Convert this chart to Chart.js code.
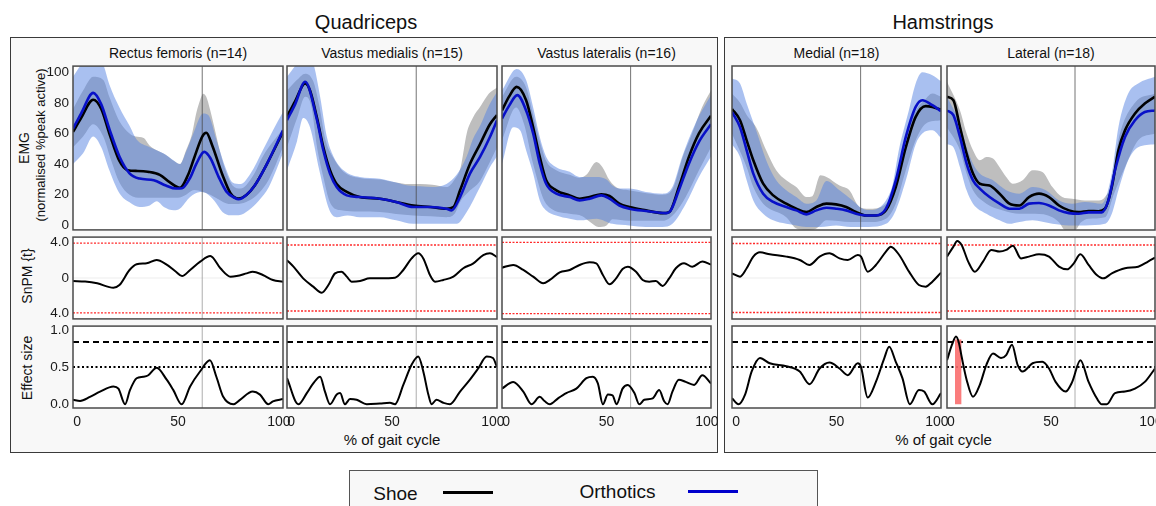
<!DOCTYPE html>
<html><head><meta charset="utf-8">
<script src="https://cdn.jsdelivr.net/npm/chart.js@4.4.1/dist/chart.umd.min.js"></script>
<style>
html,body{margin:0;padding:0;background:#fff;width:1156px;height:506px;overflow:hidden;font-family:"Liberation Sans",Arial,Helvetica,sans-serif;color:#111;}
.box{position:absolute;border:1.5px solid #3a3a3a;background:#f8f8f8;box-sizing:border-box;}
.t{position:absolute;white-space:nowrap;transform:translate(-50%,-50%);line-height:1;}
.r{transform:translate(-50%,-50%) rotate(-90deg);}
canvas{position:absolute;}
.lg{position:absolute;}
</style></head><body>
<div class="box" style="left:10px;top:37px;width:708px;height:416px"></div>
<div class="box" style="left:724px;top:37px;width:450px;height:416px"></div>
<div class="t" style="left:366px;top:21.5px;font-size:20px">Quadriceps</div>
<div class="t" style="left:943px;top:21.5px;font-size:20px">Hamstrings</div>
<div id="subs"></div>
<div class="t r" style="left:24px;top:148px;font-size:14px">EMG</div>
<div class="t r" style="left:40px;top:145px;font-size:13px">(normalised %peak active)</div>
<div class="t r" style="left:27px;top:276px;font-size:14px">SnPM {t}</div>
<div class="t r" style="left:27px;top:368px;font-size:14px">Effect size</div>
<div class="t" style="left:392px;top:439px;font-size:15px">% of gait cycle</div>
<div class="t" style="left:943.5px;top:439px;font-size:15px">% of gait cycle</div>
<div class="box" style="left:349px;top:470px;width:469px;height:60px;border-color:#555"></div>
<div class="t" style="left:395.5px;top:493px;font-size:19px">Shoe</div>
<div class="lg" style="left:443px;top:491px;width:50px;height:3px;background:#000"></div>
<div class="t" style="left:617.5px;top:490.5px;font-size:19px">Orthotics</div>
<div class="lg" style="left:688px;top:489.5px;width:50px;height:3px;background:#0000cc"></div>
<script>
// ---------------- data ----------------
const muscles = ['Rectus femoris (n=14)','Vastus medialis (n=15)','Vastus lateralis (n=16)','Medial (n=18)','Lateral (n=18)'];
const gaitTicks = [0, 50, 100];
const emgTicks = [0, 20, 40, 60, 80, 100];
const snpmTicks = [-4, 0, 4];
const esTicks = [0, 0.5, 1.0];
const toeOff = 62;
const snpmThreshold = [3.93, 3.7, 4.0, 3.87, 3.7];
const esLarge = 0.835;
const esMedium = 0.5;

// Rectus femoris
const rfShoe = [[-2,61],[2,70],[8,82],[12,76],[16,60],[21,42],[25,36],[30,35.5],[35,35],[41,33],[46,28],[51,24.5],[55,33],[58,44],[62,58],[64,60.5],[67,52],[72,33],[76,21],[80,17.5],[84,20],[88,26],[94,40],[102,61]];
const rfOrth = [[-2,63],[2,73],[8,86.5],[12,79],[16,63],[21,45],[26,34],[31,30.5],[38,29.4],[44,26],[49,24],[52,24.2],[56,31],[59,40],[63,48],[66,44],[70,32],[74,22],[78,18],[80,17],[84,20],[88,26],[94,40],[102,62]];
const rfOrthHi = [[-2,97],[3,107],[8,115],[13,105],[16,92],[21,77],[26,65],[29.5,56],[36,51],[42.7,47],[47.7,42.5],[51,40],[54,48],[57.6,60],[62.5,73],[65,72],[69,56],[74,36],[77,28],[81,27],[86,34],[92,49],[97,62],[102,74]];
const rfOrthLo = [[-2,40],[3,47],[8,58],[12,51],[16,36],[21,21],[26,15],[31,12],[36,13],[39.5,15.7],[43,12],[48,9.8],[51,11],[56,18.5],[61,21.8],[64,21],[68,16],[72,8.7],[76,6.5],[80,6.5],[85,9.8],[90,16],[95,25],[102,47]];
const rfShoeHi = [[-2,76],[3,88],[8,97],[13,95],[16,84],[21,68],[26,60],[29,58],[33,57],[36,52],[41,48],[44,46],[48,42],[51,40],[54,49],[57,60],[59,73],[61,82],[62.5,86],[64,84],[66,75],[68.7,60],[71,47],[74,34],[77,26],[81,24],[87,32],[92,45],[102,63]];
const rfShoeLo = [[-2,51],[3,58],[8,66],[13,58],[17,42],[21,28],[26,20],[32,18],[38,18],[44,18],[50,18],[54,20],[58,23],[62,22],[66,20],[70,17],[75,14],[80,14],[85,16],[90,21],[95,30],[102,51]];
const rfT = [[-2,-0.34],[4,-0.4],[10,-0.6],[18,-1.09],[21,-0.79],[26,0.9],[29.5,1.54],[34.5,1.65],[39.4,2.02],[44,1.57],[49,0.71],[52,0.22],[56,0.9],[61,1.84],[66,2.47],[71,1.09],[76,0.15],[79,0.22],[84,0.52],[87,0.71],[92,0.34],[97,-0.22],[102,-0.41]];
const rfES = [[-2,0.06],[1.5,0.045],[6.4,0.1],[11.4,0.17],[18,0.24],[20.5,0.21],[23.8,0],[26.2,0.19],[29.5,0.35],[32.8,0.37],[35.3,0.39],[39.4,0.49],[44.4,0.33],[47.7,0.19],[51.8,0],[56,0.24],[60.9,0.44],[65.8,0.59],[69,0.37],[72.4,0.1],[77.4,0],[80.7,0.06],[87,0.17],[90.6,0.13],[94.7,0],[97,0.04],[102,0.07]];

// Vastus medialis
const vmShoe = [[-2,71],[2,81],[7,92.6],[9.4,88],[12.7,71],[16,51],[19.3,36],[22.6,27],[27.6,21.8],[34,18.5],[44,17.4],[52,15.3],[60.6,13],[69,12],[77,10.9],[80.4,12],[83.7,22.9],[88.6,40],[93.6,53],[98.5,66],[102,72]];
const vmOrth = [[-2,68.6],[2,79],[7,93.7],[12.7,69.7],[16,49],[19.3,33.8],[22.6,25],[27.6,19.6],[34,18.5],[44,17.4],[52,15.3],[60.6,12],[69,12],[77,10.9],[79.5,9.8],[83.7,18.5],[88.6,33.8],[93.6,44.7],[98.5,57.7],[102,68.6]];
const vmOrthHi = [[-2,97],[3,106],[7,115],[11,106],[14.4,84],[17.7,58],[21,45],[26,36],[34,31.6],[44,30.5],[52,28],[58,26],[64,25.5],[70,25],[77,27],[82,33],[87,45],[90,56],[94,66],[98,78],[102,87]];
const vmOrthLo = [[-2,36],[3,55],[6,70],[9.4,64],[14,36],[19,10],[22.6,5.4],[28,6.5],[34,5.4],[44,5.4],[52,3.3],[60.6,1],[69,1],[77,1],[82,1],[87,8.7],[93.6,25],[98.5,38],[102,45]];
const vmShoeHi = [[-2,88],[3,95],[7,99],[11,94],[14,78],[17,56],[21,44],[26,35],[34,31],[44,30],[52,28],[58,27],[64,27],[70,26.5],[77,25],[81,30],[84,38],[87,60],[90,70],[94,78],[98,86],[102,90]];
const vmShoeLo = [[-2,51],[3,70],[7,84],[10,78],[13,50],[16,31.6],[19,16],[24,10],[34,9],[44,8.7],[52,7.5],[60.6,6.5],[69,6],[77,5.4],[81,7.6],[84,16],[88,22],[93.6,29],[98,40],[102,51]];
const vmT = [[-2,2.0],[1.2,1.27],[6,-0.04],[11,-0.97],[15.2,-1.65],[18.5,-0.79],[21.8,0.52],[25,0.71],[27.6,0.15],[30,-0.41],[34.2,-0.34],[39,-0.04],[44,-0.04],[51.5,0.04],[55.6,0.9],[59.7,2.2],[63,2.77],[65.5,2.2],[68.8,0.34],[71.3,-0.41],[75.4,-0.22],[80.4,0.15],[85.3,1.09],[90.3,1.65],[95.2,2.58],[98.5,2.77],[102,2.35]];
const vmES = [[-2,0.35],[3.6,0],[7.8,0.15],[11,0.28],[14.4,0.37],[16.8,0.17],[19.3,0],[22.6,0.13],[24.3,0.15],[26.7,0],[29.2,0.07],[32.5,0.06],[37.5,0],[44,0.01],[49,0.02],[51.5,0],[55.6,0.26],[59.7,0.53],[63,0.64],[65.5,0.44],[68,0.13],[69.6,0],[72,0.06],[75.4,0.02],[78.7,0],[83.7,0.17],[88.6,0.33],[92.7,0.48],[96.9,0.64],[100,0.62],[102,0.5]];

// Vastus lateralis
const vlShoe = [[-2,75],[1.5,84],[5.3,90.4],[10,81.7],[13.5,64],[16.8,44.7],[20,29.4],[25,22.9],[31.7,19.6],[36.6,17.4],[41.6,18.5],[47.4,20.3],[51.5,19.2],[56.4,14.2],[61.4,12],[69.6,9.8],[77.9,8],[81.2,8.7],[86,25],[91,44.7],[96,60],[102,71.5]];
const vlOrth = [[-2,69.7],[1.5,78],[5.6,85],[10,75],[13.5,60],[16.8,40.3],[20,27],[25,20.7],[31.7,18.5],[36.6,16.3],[41.6,17.4],[47.4,19.6],[51.5,17.4],[56.4,13],[61.4,10.9],[69.6,9.4],[79.5,8],[82,9.8],[86,22.9],[91,40.3],[96,54.5],[102,66]];
const vlOrthHi = [[-2,88],[5.3,102],[10,94.8],[13.5,77],[16.8,57.7],[20,44.7],[25,38],[31.7,35],[36.6,31.6],[40,31.6],[45,31.6],[50,30],[53,26],[56.4,24],[61.4,24],[69.6,21.8],[77.9,20.7],[82.8,25],[87.6,44.7],[94.2,66.4],[102,85]];
const vlOrthLo = [[-2,40.3],[3.6,64],[7,62],[10,49],[13.5,33.8],[16.8,16.3],[20,9.8],[25,6.5],[31.7,4.4],[36.6,3.3],[45,4.4],[53,1],[61.4,0],[69.6,-1],[77.9,-1],[82.8,1],[89.4,14],[96,31.6],[102,45]];
const vlShoeHi = [[-2,84],[5,97],[10,90],[13.5,72],[17,54],[20,42],[25,36],[31.7,33],[36.6,31],[40,33],[45,41.4],[48,38],[51.5,29.4],[56,24],[61,23],[70,21],[78,20],[83,24],[88,45],[92,58],[97.5,77],[102,88]];
const vlShoeLo = [[-2,55.5],[5,77],[9,66],[13.5,40],[20,14],[31.7,7.6],[38,6],[42,2],[46,-1],[50,0],[53,4],[61,3],[70,3],[78,3],[84,8],[89.4,18.5],[96,36],[102,51]];
const vlT = [[-2,1.16],[3.6,1.46],[8.6,0.9],[13.5,0.15],[18.5,-0.6],[21.8,-0.22],[26.7,0.64],[31.7,0.9],[36.6,1.46],[41.6,1.76],[44.9,1.65],[48.2,0.34],[51.5,-0.71],[54.8,-0.04],[58,1.01],[60.6,1.27],[64.7,0.71],[68,-0.22],[71.3,-0.41],[74.6,-0.34],[77.9,-0.9],[81.2,-0.04],[84.5,1.09],[88.6,1.65],[92.7,1.27],[97.7,1.84],[102,1.5]];
const vlES = [[-2,0.21],[3.6,0.3],[8.6,0.17],[12.7,0],[16.8,0.1],[19.3,0.04],[21.8,0],[25.9,0.08],[30,0.15],[35,0.21],[40,0.35],[43.2,0.37],[45.7,0.28],[48.2,0],[50.7,0.13],[53,0.12],[55,0],[58,0.21],[60.6,0.26],[63.9,0.15],[66.3,0],[68.8,0.06],[73,0.08],[76.2,0.19],[78.7,0.04],[80.4,0],[82.8,0.17],[86,0.33],[89.4,0.3],[93.6,0.26],[97.7,0.39],[102,0.28]];

// Medial hamstrings
const mdShoe = [[-2,76],[2,68.6],[5.3,55.5],[8.6,42.5],[13.5,27.2],[18.5,19.6],[25,14.2],[30,10.9],[35,8.7],[40,12],[45,14.2],[49.8,13.7],[54.8,12],[59.7,8.7],[64.7,6.5],[69.6,6.5],[74.6,9.8],[79.5,25],[84.5,51],[89.4,70.8],[94.4,77.8],[97.7,77.3],[102,75.5]];
const mdOrth = [[-2,74],[2,64],[5.3,49],[8.6,33.8],[13.5,20.7],[18.5,15.3],[25,12],[30,9.8],[35,7.2],[40,9.8],[45,11.5],[49.8,10.9],[54.8,9.8],[59.7,7.6],[64.7,6.5],[69.6,6.5],[74.6,10.9],[79.5,29.4],[84.5,57.7],[89.4,77.3],[92.7,81.7],[97.7,78.4],[102,74.5]];
const mdOrthHi = [[-2,95.9],[2,92.6],[5.3,79.5],[10,62],[15,42.5],[20,29.4],[25,22.9],[30,18.5],[35,14.2],[40,16.3],[45,29],[51.5,22.9],[58,16.3],[63,10.9],[67,10],[74.6,16.3],[78,27],[81,49],[86,75],[89.4,92.6],[92.7,100],[97.7,98],[102,94]];
const mdOrthLo = [[-2,53],[2,44.7],[5.3,29.4],[8.6,16.3],[13.5,7.6],[18.5,3.3],[25,1],[30,0],[35,-1],[42,-1],[49.8,0],[57,-1],[66,-1],[74.6,1],[79.5,9.8],[84.5,29.4],[89.4,53],[92.7,60],[97.7,62],[102,57]];
const mdShoeHi = [[-2,86],[2,80],[5.3,72],[10,64],[15,49],[20,36],[25,29.4],[30,25],[35,18.5],[38,19],[42,32.7],[45,31.6],[51.5,26],[56.4,22.9],[61.4,12],[66,10.9],[74.6,14],[79,25],[83,45],[86,64],[90,76],[94,82],[97.7,86],[102,84]];
const mdShoeLo = [[-2,60],[5.3,38],[8.6,25],[13.5,14.2],[25,5.4],[30,-2],[35,-3],[40,-2],[45,3.3],[57,2.2],[66,2.2],[74.6,4.4],[79.5,14.2],[84.5,36],[89.4,55.5],[94.4,66.4],[102,68.6]];
const mdT = [[-2,0.52],[2,0.15],[5.3,1.09],[8.6,2.4],[11.9,2.88],[16.8,2.66],[25,2.4],[31.7,2.02],[36.6,1.46],[41.6,2.4],[46.5,2.77],[51.5,2.2],[55.6,2.02],[60.6,2.58],[62.2,2.4],[65.5,0.71],[69.6,1.46],[74.6,2.96],[77,3.52],[81.2,2.58],[86.1,0.71],[91,-0.79],[94.4,-0.97],[97.7,-0.41],[102,0.6]];
const mdES = [[-2,0.08],[1.2,0],[4.5,0.13],[7.8,0.44],[11.9,0.62],[16.8,0.55],[25,0.51],[31.7,0.44],[36.6,0.27],[41.6,0.48],[46.5,0.56],[51.5,0.48],[55.6,0.39],[60.6,0.55],[62.2,0.5],[65.5,0.09],[69.6,0.3],[73.8,0.62],[76.2,0.77],[79.5,0.57],[82.8,0.35],[86.5,0],[91,0.19],[93.6,0.17],[97.7,0],[102,0.15]];

// Lateral hamstrings
const ltShoe = [[-2,83.9],[1.2,81.7],[4.5,64],[7.8,46.8],[11,33.8],[14.4,27.2],[19.3,26],[24.3,20.7],[29.2,14.2],[34.2,13],[39,18.5],[44,20.7],[49,18.5],[54,13],[59,9.8],[63.9,8.7],[68.8,9.4],[73.8,9.2],[77,10.9],[80.4,25],[83.7,49],[87,62],[92,73],[96.9,79.5],[102,84]];
const ltOrth = [[-2,75],[1.2,71.9],[4.5,57.7],[7.8,40.3],[11,29.4],[14.4,24],[19.3,18.5],[24.3,14.2],[29.2,10.9],[34.2,10.9],[39,14.2],[44,14.6],[49,13],[54,9.8],[59,8],[63.9,7.6],[68.8,8.5],[75.4,8.5],[78.7,16.3],[82,36],[87,57.7],[92,68.6],[96.9,74],[102,75]];
const ltOrthHi = [[-2,83.9],[4.5,66.4],[7.8,51],[11,40.3],[14.4,33.8],[21,29.4],[27.6,22.9],[34.2,20.7],[40.8,25],[47.4,22.9],[54,16.3],[60.6,14.2],[67,15.3],[75.4,14.2],[80.4,33.8],[83.7,64],[88.6,86],[93.6,92.6],[102,97]];
const ltOrthLo = [[-2,53],[1.2,51],[4.5,38],[7.8,22.9],[11,14.2],[17.7,7.6],[24.3,3.3],[29.2,1],[34.2,2.2],[40.8,3.3],[50.7,1],[59,0],[67,0],[77,1],[80.4,7.6],[83.7,22.9],[88.6,42.5],[93.6,51],[102,53]];
const ltShoeHi = [[-2,93.7],[4.5,75],[7.8,60],[11,49],[14.4,42.5],[17.7,44.7],[21,43.6],[24.3,38],[27.6,31.6],[30.9,27.2],[35.8,29.4],[40.8,36],[45.7,34.9],[50.7,25],[55.6,18.5],[60.6,17.4],[67,16.3],[74,16.3],[77,18.5],[80.4,28],[83.7,55.5],[92,80],[102,86]];
const ltShoeLo = [[-2,64],[4.5,49],[7.8,33.8],[11,22.9],[17.7,14.2],[26,9.8],[34.2,7.6],[42,7.6],[50.7,5.4],[54,2],[57,-3],[62,-3],[65,2],[68.8,4.4],[77,5.4],[81.5,20.7],[87,38],[93.6,55.5],[102,60]];
const ltT = [[-2,2.4],[1.2,3.52],[3.1,4.16],[5.3,3.7],[8.6,1.84],[11.9,0.71],[16,1.84],[20.1,3.15],[24.3,2.96],[27.6,3.15],[30.9,3.63],[35,2.2],[39,2.4],[44,2.66],[49,2.4],[54,1.27],[58,0.97],[61.4,1.65],[64.7,2.66],[68.8,1.46],[72.9,0.34],[76.2,-0.04],[80.4,0.52],[87,1.09],[93.6,1.27],[98.5,1.84],[102,2.3]];
const ltES = [[-2,0.59],[0.5,0.8],[2.5,0.91],[4,0.82],[5.3,0.64],[7.8,0.33],[11,0.1],[14.4,0.26],[17.7,0.53],[21,0.68],[25,0.62],[27.6,0.66],[30.5,0.8],[33.3,0.53],[35.8,0.44],[40.8,0.55],[45.7,0.57],[49,0.48],[52.3,0.3],[57.3,0.17],[60.6,0.3],[64.7,0.59],[68.8,0.3],[72.9,0.08],[75.4,0],[77.9,0],[82,0.15],[87,0.17],[92,0.21],[96.9,0.3],[102,0.48]];
const ltSigCluster = [[2,0.87],[5.3,0.87]];

// ---------------- layout & rendering ----------------
const FONT = '"Liberation Sans", Arial, Helvetica, sans-serif';
const COLS = [{l:73,w:210},{l:287,w:210},{l:502,w:209},{l:732,w:209},{l:947,w:208}];
const ROWS = [{t:66,h:164},{t:237,h:82},{t:326,h:82}];
const X_MIN = -2, X_MAX = 102;
const AX = {
  emg: {min:-3, max:104, ticks: emgTicks, fmt: v => String(v)},
  snpm: {min:-4.6, max:4.6, ticks: snpmTicks, fmt: v => v === 0 ? '0' : Math.abs(v).toFixed(1)},
  es: {min:-0.05, max:1.05, ticks: esTicks, fmt: v => v.toFixed(1)}
};
const SHOE_COLOR = '#000000', ORTH_COLOR = 'rgb(8,16,200)';
const SHOE_BAND = 'rgb(190,190,190)', ORTH_BAND = 'rgba(83,129,225,0.5)';
const THRESH_COLOR = '#ff2a2a';

const panels = [
  {shoe:rfShoe, orth:rfOrth, shoeHi:rfShoeHi, shoeLo:rfShoeLo, orthHi:rfOrthHi, orthLo:rfOrthLo, t:rfT, es:rfES, sig:null},
  {shoe:vmShoe, orth:vmOrth, shoeHi:vmShoeHi, shoeLo:vmShoeLo, orthHi:vmOrthHi, orthLo:vmOrthLo, t:vmT, es:vmES, sig:null},
  {shoe:vlShoe, orth:vlOrth, shoeHi:vlShoeHi, shoeLo:vlShoeLo, orthHi:vlOrthHi, orthLo:vlOrthLo, t:vlT, es:vlES, sig:null},
  {shoe:mdShoe, orth:mdOrth, shoeHi:mdShoeHi, shoeLo:mdShoeLo, orthHi:mdOrthHi, orthLo:mdOrthLo, t:mdT, es:mdES, sig:null},
  {shoe:ltShoe, orth:ltOrth, shoeHi:ltShoeHi, shoeLo:ltShoeLo, orthHi:ltOrthHi, orthLo:ltOrthLo, t:ltT, es:ltES, sig:ltSigCluster}
];

const pts = arr => arr.map(([x, y]) => ({x, y}));
const curve = (arr, color, width, order, extra) => Object.assign({
  data: pts(arr), borderColor: color, borderWidth: width, pointRadius: 0, fill: false,
  cubicInterpolationMode: 'monotone', order
}, extra || {});
const straight = (arr, color, width, dash, order) => ({
  data: pts(arr), borderColor: color, borderWidth: width, borderDash: dash || [], pointRadius: 0,
  fill: false, tension: 0, order
});
const hLine = (y, color, width, dash, order) => straight([[X_MIN, y], [X_MAX, y]], color, width, dash, order);
const vLine = (x, ax, color, order) => straight([[x, ax.min], [x, ax.max]], color, 1, [], order);

const panelFrame = {
  id: 'panelFrame',
  beforeDraw(chart) {
    const {ctx, chartArea: a} = chart;
    ctx.save(); ctx.fillStyle = '#ffffff'; ctx.fillRect(a.left, a.top, a.width, a.height); ctx.restore();
  },
  afterDraw(chart) {
    const {ctx, chartArea: a} = chart;
    ctx.save(); ctx.strokeStyle = '#4a4a4a'; ctx.lineWidth = 1.5;
    ctx.strokeRect(a.left, a.top, a.width, a.height); ctx.restore();
  }
};

function mkChart(col, row, datasets, ax) {
  const c = COLS[col], r = ROWS[row];
  const showY = col === 0, showX = row === 2;
  const padL = showY ? 73 : 14, padR = 16, padT = 12, padB = showX ? 32 : 12;
  const W = c.w + padL + padR, H = r.h + padT + padB;
  const cv = document.createElement('canvas');
  cv.width = W; cv.height = H;
  cv.style.left = (c.l - padL) + 'px'; cv.style.top = (r.t - padT) + 'px';
  cv.style.width = W + 'px'; cv.style.height = H + 'px';
  document.body.appendChild(cv);
  new Chart(cv, {
    type: 'line',
    data: {datasets},
    plugins: [panelFrame],
    options: {
      responsive: false, animation: false, devicePixelRatio: 1, events: [],
      layout: {padding: {left: showY ? 0 : padL, right: padR, top: padT, bottom: showX ? 0 : padB}},
      plugins: {legend: {display: false}, tooltip: {enabled: false}},
      scales: {
        x: {
          type: 'linear', min: X_MIN, max: X_MAX, display: showX,
          grid: {display: false, drawTicks: false}, border: {display: false},
          afterBuildTicks: s => { s.ticks = gaitTicks.map(v => ({value: v})); },
          afterFit: s => { s.height = showX ? padB : 0; },
          ticks: {padding: 6, color: '#1a1a1a', font: {family: FONT, size: 14}, maxRotation: 0, autoSkip: false,
                  callback: v => String(v)}
        },
        y: {
          type: 'linear', min: ax.min, max: ax.max, display: showY,
          grid: {display: false, drawTicks: false}, border: {display: false},
          afterBuildTicks: s => { s.ticks = ax.ticks.map(v => ({value: v})); },
          afterFit: s => { s.width = showY ? 73 : 0; },
          ticks: {padding: 4, color: '#1a1a1a', font: {family: FONT, size: 13.5}, autoSkip: false, callback: ax.fmt}
        }
      }
    }
  });
}

const subs = document.getElementById('subs');
panels.forEach((p, i) => {
  const c = COLS[i];
  const d = document.createElement('div');
  d.className = 't'; d.style.left = (c.l + c.w / 2) + 'px'; d.style.top = '52.5px'; d.style.fontSize = '14px';
  d.textContent = muscles[i];
  subs.appendChild(d);

  // EMG row
  mkChart(i, 0, [
    curve(p.shoeHi, 'transparent', 0, 10, {backgroundColor: SHOE_BAND, fill: '+1'}),
    curve(p.shoeLo, 'transparent', 0, 10),
    curve(p.orthHi, 'transparent', 0, 9, {backgroundColor: ORTH_BAND, fill: '+1'}),
    curve(p.orthLo, 'transparent', 0, 9),
    vLine(toeOff, AX.emg, 'rgba(70,70,70,0.75)', 8),
    curve(p.shoe, SHOE_COLOR, 2.6, 2),
    curve(p.orth, ORTH_COLOR, 2.6, 1)
  ], AX.emg);

  // SnPM row
  mkChart(i, 1, [
    hLine(snpmThreshold[i], THRESH_COLOR, 1.3, [2, 1.5], 6),
    hLine(-snpmThreshold[i], THRESH_COLOR, 1.3, [2, 1.5], 6),
    hLine(0, 'rgba(0,0,0,0.07)', 1, [], 7),
    vLine(toeOff, AX.snpm, 'rgba(140,140,140,0.7)', 5),
    curve(p.t, '#000', 2, 1)
  ], AX.snpm);

  // Effect size row
  const esSets = [
    hLine(esLarge, '#000', 2, [6, 4], 6),
    hLine(esMedium, '#000', 2, [2, 2.5], 6),
    vLine(toeOff, AX.es, 'rgba(140,140,140,0.7)', 5)
  ];
  if (p.sig) {
    const s = straight(p.sig, 'transparent', 0, [], 4);
    s.fill = 'origin'; s.backgroundColor = 'rgba(250,110,110,0.9)';
    esSets.push(s);
  }
  esSets.push(curve(p.es, '#000', 2, 1));
  mkChart(i, 2, esSets, AX.es);
});
</script>
</body></html>
